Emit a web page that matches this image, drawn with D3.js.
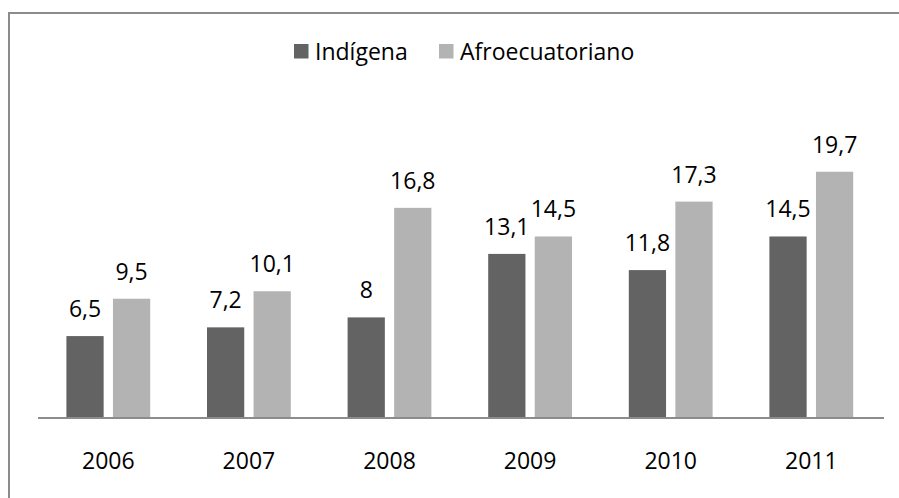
<!DOCTYPE html>
<html lang="es">
<head>
<meta charset="UTF-8">
<title>Indígena / Afroecuatoriano</title>
<script src="https://d3js.org/d3.v7.min.js"></script>
<style>
  body { margin: 0; background: #fff; }
  svg { display: block; }
  text { font-family: "Open Sans", sans-serif; fill: #000; }
</style>
</head>
<body>
<script>
  const years = ["2006", "2007", "2008", "2009", "2010", "2011"];
  const seriesNames = ["Indígena", "Afroecuatoriano"];
  const indigena = [6.5, 7.2, 8, 13.1, 11.8, 14.5];
  const afro = [9.5, 10.1, 16.8, 14.5, 17.3, 19.7];
  const seriesColors = ["#636363", "#b3b3b3"];

  const width = 899, height = 498;
  const svg = d3.select("body").append("svg")
    .attr("width", width).attr("height", height);

  // outer frame (only top and left edges fall inside the picture)
  svg.append("rect")
    .attr("x", 9).attr("y", 13)
    .attr("width", 1000).attr("height", 1000)
    .attr("fill", "none").attr("stroke", "#8c8c8c").attr("stroke-width", 2);

  const x0 = d3.scaleBand().domain(years).range([38, 881.6]);
  const x1 = d3.scaleBand().domain(seriesNames)
    .range([0, x0.bandwidth()]).paddingInner(0.2).paddingOuter(0.61);
  const y = d3.scaleLinear().domain([0, 20]).range([417, 168]);

  const rows = years.map((yr, i) => ({ year: yr, values: [indigena[i], afro[i]] }));

  const groups = svg.selectAll(".yr").data(rows).enter().append("g")
    .attr("transform", d => `translate(${x0(d.year)},0)`);

  const cells = groups.selectAll(".bar")
    .data(d => d.values.map((v, k) => ({ name: seriesNames[k], value: v, k })))
    .enter();

  cells.append("rect")
    .attr("x", d => x1(d.name))
    .attr("y", d => y(d.value))
    .attr("width", x1.bandwidth())
    .attr("height", d => y(0) - y(d.value))
    .attr("fill", d => seriesColors[d.k]);

  cells.append("text")
    .attr("x", d => x1(d.name) + x1.bandwidth() / 2)
    .attr("y", d => y(d.value) - 19)
    .attr("text-anchor", "middle")
    .attr("font-size", 23)
    .text(d => String(d.value).replace(".", ","));

  // baseline
  svg.append("line")
    .attr("x1", 38).attr("x2", 884)
    .attr("y1", y(0) + 1).attr("y2", y(0) + 1)
    .attr("stroke", "#8c8c8c").attr("stroke-width", 2);

  // category labels
  svg.selectAll(".xl").data(years).enter().append("text")
    .attr("x", d => x0(d) + x0.bandwidth() / 2)
    .attr("y", 469)
    .attr("text-anchor", "middle")
    .attr("font-size", 23)
    .text(d => d);

  // legend
  const legendX = [294, 439];
  const lg = svg.selectAll(".lg").data(seriesNames).enter().append("g")
    .attr("transform", (d, i) => `translate(${legendX[i]},44)`);
  lg.append("rect").attr("width", 14.5).attr("height", 14.5)
    .attr("fill", (d, i) => seriesColors[i]);
  lg.append("text").attr("x", 21).attr("y", 15.5)
    .attr("font-size", 23).text(d => d);
</script>
</body>
</html>
